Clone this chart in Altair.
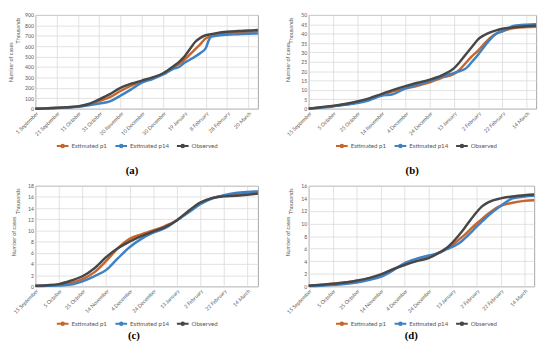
import json
import altair as alt
import pandas as pd

# ---------------- data ----------------
series_names = ["Estimated p1", "Estimated p14", "Observed"]
series_colors = ["#C8652B", "#3F82C4", "#474747"]

ticks_a = ["1 September", "21 September", "11 October", "31 October", "20 November",
           "10 December", "30 December", "19 January", "8 February", "28 February", "20 March"]
ticks_bcd = ["15 September", "5 October", "25 October", "14 November", "4 December",
             "24 December", "13 January", "2 February", "22 February", "14 March"]

# panel (a)  (thousands)
days_a = [0, 10, 20, 30, 40, 50, 60, 70, 80, 90, 100, 110, 120, 130, 135, 140, 145, 150, 155, 160, 163, 165, 170, 180, 190, 200, 209]
obs_a = [0, 3, 8, 14, 22, 45, 90, 140, 200, 240, 270, 300, 340, 410, 450, 500, 570, 640, 680, 705, 712, 716, 725, 738, 745, 750, 755]
p1_a = [0, 2, 6, 12, 20, 40, 75, 110, 170, 220, 265, 295, 335, 400, 430, 470, 520, 570, 620, 675, 690, 700, 712, 725, 732, 738, 742]
p14_a = [0, 2, 5, 10, 17, 32, 50, 70, 125, 185, 250, 285, 328, 385, 400, 440, 470, 500, 535, 580, 660, 690, 700, 710, 715, 720, 722]

# panel (b)
days_b = [0, 10, 20, 30, 40, 50, 60, 70, 80, 90, 100, 110, 120, 125, 130, 135, 140, 145, 150, 155, 160, 170, 180, 188]
obs_b = [0, 0.8, 1.5, 2.5, 3.8, 5.5, 7.8, 10, 12, 13.8, 15.5, 17.8, 21.5, 25, 29, 33, 37, 39.2, 40.7, 41.8, 42.6, 43.4, 44, 44.3]
p1_b = [0, 0.7, 1.4, 2.2, 3.3, 5, 7.5, 9.2, 10.8, 12.2, 14, 16.5, 18.5, 21, 24.5, 28, 31, 34.5, 37.7, 40, 41.3, 43, 43.5, 43.7]
p14_b = [0, 0.5, 1.2, 2, 3, 4.5, 6.8, 7.8, 10.8, 12.8, 14.8, 17, 19, 20, 21.5, 25, 28.8, 33, 37, 40, 41.3, 44.2, 44.8, 45]

# panel (c)
days_c = [0, 10, 20, 30, 40, 50, 60, 70, 80, 90, 100, 110, 120, 130, 140, 150, 160, 170, 180, 189]
obs_c = [0.1, 0.2, 0.4, 1.0, 1.8, 3.2, 5.2, 6.8, 8.0, 9.0, 9.8, 10.6, 11.8, 13.5, 15.0, 15.8, 16.1, 16.2, 16.4, 16.6]
p1_c = [0.1, 0.15, 0.3, 0.6, 1.3, 2.5, 4.5, 6.8, 8.5, 9.3, 10.0, 10.8, 11.8, 13.4, 14.9, 15.8, 16.2, 16.5, 16.8, 16.9]
p14_c = [0.05, 0.1, 0.15, 0.3, 0.9, 1.8, 2.9, 5.0, 7.0, 8.5, 9.6, 10.4, 11.8, 13.2, 14.7, 15.7, 16.3, 16.7, 16.9, 17.0]

# panel (d)
days_d = [0, 10, 20, 30, 40, 50, 60, 70, 80, 90, 100, 110, 115, 120, 125, 130, 135, 140, 145, 150, 160, 170, 180, 188]
obs_d = [0.1, 0.25, 0.4, 0.6, 0.9, 1.3, 1.9, 2.7, 3.4, 4.0, 4.5, 5.5, 6.1, 7.0, 8.1, 9.3, 10.6, 11.8, 12.8, 13.4, 14.0, 14.3, 14.5, 14.6]
p1_d = [0.1, 0.2, 0.4, 0.6, 0.9, 1.2, 1.8, 2.7, 3.5, 4.1, 4.7, 5.5, 6.0, 6.6, 7.4, 8.2, 9.1, 10.0, 10.8, 11.6, 12.8, 13.3, 13.6, 13.7]
p14_d = [0.05, 0.1, 0.2, 0.35, 0.6, 1.0, 1.5, 2.5, 3.7, 4.4, 4.9, 5.4, 5.9, 6.3, 6.8, 7.6, 8.5, 9.5, 10.4, 11.3, 12.8, 14.0, 14.3, 14.4]

FONT = "Lato"
GREY = "#595959"
SYMBOL = "M-1,0H1M-0.22,0a0.22,0.22 0 1,0 0.44,0a0.22,0.22 0 1,0 -0.44,0"


def panel(days, p1, p14, obs, ticks, xmax, ymax, ystep, caption, W, H, leg_x, cap_x, cap_dy):
    rows = []
    for name, vals in zip(series_names, [p1, p14, obs]):
        for d, v in zip(days, vals):
            rows.append({"day": d, "value": v, "series": name})
    df = pd.DataFrame(rows)
    label_expr = json.dumps(ticks) + "[round(datum.value / 20)]"
    yvals = [round(i * ystep, 6) for i in range(int(round(ymax / ystep)) + 1)]
    lines = alt.Chart(df).mark_line(strokeWidth=2.5, interpolate="monotone").encode(
        x=alt.X("day:Q",
                scale=alt.Scale(domain=[0, xmax], nice=False, zero=False),
                axis=alt.Axis(values=[i * 20 for i in range(len(ticks))], labelExpr=label_expr,
                              labelAngle=-45, labelOverlap=False, title=None, ticks=False,
                              domain=False, labelFontSize=5.3, labelFont=FONT, labelColor=GREY,
                              labelPadding=2, gridColor="#DADADA", gridWidth=0.8)),
        y=alt.Y("value:Q",
                scale=alt.Scale(domain=[0, ymax], nice=False),
                axis=alt.Axis(values=yvals, title="Number of cases", titleFontSize=5.6,
                              titleFont=FONT, titleFontWeight="normal", titleColor=GREY,
                              titlePadding=11, ticks=False, domain=False, labelOverlap=False,
                              labelFontSize=5.2, labelFont=FONT, labelColor=GREY, labelPadding=2,
                              gridColor="#DADADA", gridWidth=0.8)),
        color=alt.Color("series:N",
                        scale=alt.Scale(domain=series_names, range=series_colors),
                        legend=alt.Legend(title=None, orient="none", direction="horizontal",
                                          legendX=leg_x, legendY=H + 31,
                                          symbolType=SYMBOL, symbolStrokeWidth=2,
                                          symbolSize=144, labelFontSize=6.3, labelFont=FONT,
                                          labelColor=GREY, columnPadding=4, labelOffset=2,
                                          padding=0)),
    )
    unit = alt.Chart(pd.DataFrame({"t": ["Thousands"]})).mark_text(
        angle=270, fontSize=5.6, font=FONT, color=GREY
    ).encode(x=alt.value(-18), y=alt.value(16), text="t:N")
    cap = alt.Chart(pd.DataFrame({"t": [caption]})).mark_text(
        fontSize=11, font="Liberation Serif", fontWeight="bold", color="black"
    ).encode(x=alt.value(cap_x), y=alt.value(H + cap_dy), text="t:N")
    return alt.layer(lines, unit, cap).properties(width=W, height=H)


pa = panel(days_a, p1_a, p14_a, obs_a, ticks_a, 209, 900, 100, "(a)", 228, 96, 21, 99, 64)
pb = panel(days_b, p1_b, p14_b, obs_b, ticks_bcd, 188, 50, 5, "(b)", 233, 96, 27, 106, 64)
pc = panel(days_c, p1_c, p14_c, obs_c, ticks_bcd, 189, 18, 2, "(c)", 228, 103, 21, 101, 51)
pd_ = panel(days_d, p1_d, p14_d, obs_d, ticks_bcd, 188, 16, 2, "(d)", 231, 103, 27, 105, 51)

chart = alt.concat(pa, pb, pc, pd_, columns=2, align="each",
                   spacing={"row": 6, "column": 21}).resolve_scale(
    x="independent", y="independent", color="independent"
).properties(padding=0).configure_view(stroke="#A6A6A6", strokeWidth=1)

chart.save("out.html", embed_options={"renderer": "svg", "actions": False})
